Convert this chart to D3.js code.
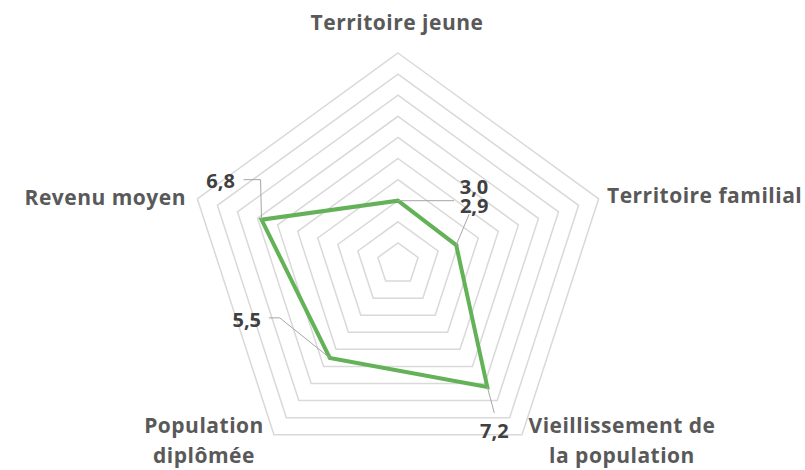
<!DOCTYPE html>
<html>
<head>
<meta charset="utf-8">
<script src="https://cdn.jsdelivr.net/npm/d3@7"></script>
<style>
  html, body { margin: 0; padding: 0; background: #fff; }
  svg { display: block; }
</style>
</head>
<body>
<svg id="chart" width="805" height="470"></svg>
<script>
// ---- data ----
const categories = ["Territoire jeune", "Territoire familial", "Vieillissement de la population", "Population diplômée", "Revenu moyen"];
const categoryLines = [["Territoire jeune"], ["Territoire familial"], ["Vieillissement de", "la population"], ["Population", "diplômée"], ["Revenu moyen"]];
const values = [3.0, 2.9, 7.2, 5.5, 6.8];
const valueLabels = ["3,0", "2,9", "7,2", "5,5", "6,8"];
const gridLevels = [1, 2, 3, 4, 5, 6, 7, 8, 9, 10];

// ---- layout ----
const cx = 398, cy = 264, R = 211;
const svg = d3.select("#chart");
const r = d3.scaleLinear().domain([0, 10]).range([0, R]);
const angle = d3.scaleLinear().domain([0, categories.length]).range([-Math.PI / 2, 1.5 * Math.PI]);
const pt = (i, v) => [cx + r(v) * Math.cos(angle(i)), cy + r(v) * Math.sin(angle(i))];
const FONT = "'Open Sans', 'Noto Sans', sans-serif";

// grid pentagons
const line = d3.line();
svg.append("g").selectAll("path").data(gridLevels).join("path")
  .attr("d", lv => line(categories.map((c, i) => pt(i, lv))) + "Z")
  .attr("fill", "none").attr("stroke", "#d9d9d9").attr("stroke-width", 1.5);

// series
const pts = values.map((v, i) => pt(i, v));
svg.append("path").attr("d", line(pts) + "Z")
  .attr("fill", "none").attr("stroke", "#63b257").attr("stroke-width", 4)
  .attr("stroke-linejoin", "miter");

// data labels with leader lines (offsets relative to each point)
const labelLayout = [
  { leader: [[56, 0]], tx: 76, ty: -7 },
  { leader: [[13, -31]], tx: 18, ty: -32 },
  { leader: [[7, 26]], tx: 7, ty: 51 },
  { leader: [[-50, -40], [-61, -40]], tx: -83, ty: -31 },
  { leader: [[-1, -40], [-18, -40]], tx: -41, ty: -32 }
];
const lbl = svg.append("g");
pts.forEach((p, i) => {
  const L = labelLayout[i];
  const path = [p].concat(L.leader.map(o => [p[0] + o[0], p[1] + o[1]]));
  lbl.append("path").attr("d", line(path)).attr("fill", "none")
    .attr("stroke", "#a6a6a6").attr("stroke-width", 1);
});
pts.forEach((p, i) => {
  const L = labelLayout[i];
  lbl.append("text").attr("x", p[0] + L.tx).attr("y", p[1] + L.ty)
    .attr("text-anchor", "middle")
    .attr("font-family", FONT).attr("font-weight", "bold")
    .attr("font-size", 20).attr("fill", "#404040")
    .text(valueLabels[i]);
});

// category labels
const catLayout = [
  { x: 397, y: 30, anchor: "middle" },
  { x: 607, y: 203, anchor: "start" },
  { x: 622, y: 433, anchor: "middle" },
  { x: 204, y: 433, anchor: "middle" },
  { x: 186, y: 205, anchor: "end" }
];
const cat = svg.append("g");
categoryLines.forEach((lines, i) => {
  const L = catLayout[i];
  const t = cat.append("text").attr("x", L.x).attr("y", L.y)
    .attr("text-anchor", L.anchor)
    .attr("font-family", FONT).attr("font-weight", "bold")
    .attr("font-size", 21).attr("letter-spacing", 0.5).attr("fill", "#595959");
  lines.forEach((s, k) => {
    t.append("tspan").attr("x", L.x).attr("dy", k === 0 ? 0 : 30).text(s);
  });
});
</script>
</body>
</html>
